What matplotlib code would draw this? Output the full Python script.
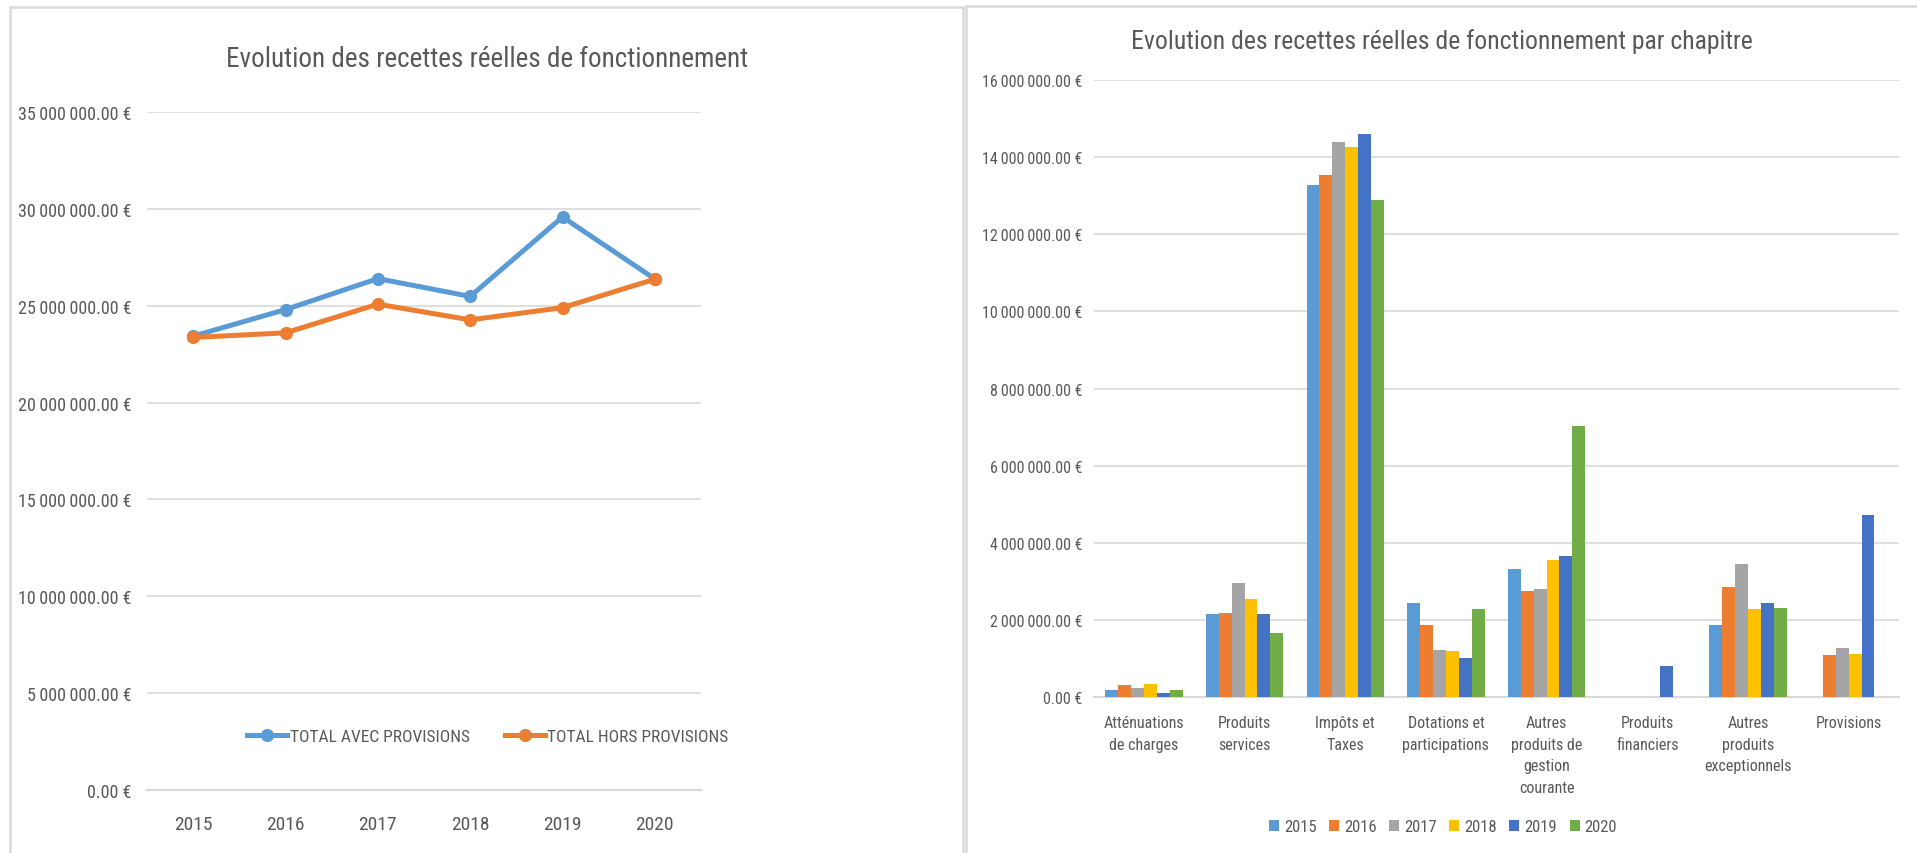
import matplotlib
matplotlib.use("Agg")
import matplotlib.pyplot as plt
from matplotlib import font_manager as fm
from matplotlib.patches import Rectangle, Patch
from matplotlib.ticker import FuncFormatter, MultipleLocator

# ---------------------------------------------------------------- data
years = ["2015", "2016", "2017", "2018", "2019", "2020"]

total_avec_provisions = [23_430_000, 24_800_000, 26_400_000, 25_480_000, 29_580_000, 26_380_000]
total_hors_provisions = [23_360_000, 23_600_000, 25_080_000, 24_270_000, 24_900_000, 26_370_000]

chapitres = [
    "Atténuations\nde charges",
    "Produits\nservices",
    "Impôts et\nTaxes",
    "Dotations et\nparticipations",
    "Autres\nproduits de\ngestion\ncourante",
    "Produits\nfinanciers",
    "Autres\nproduits\nexceptionnels",
    "Provisions",
]

recettes_2015 = [175_000, 2_140_000, 13_280_000, 2_430_000, 3_320_000, 0, 1_880_000, 0]
recettes_2016 = [306_000, 2_190_000, 13_540_000, 1_880_000, 2_740_000, 0, 2_850_000, 1_090_000]
recettes_2017 = [236_000, 2_950_000, 14_400_000, 1_220_000, 2_790_000, 0, 3_450_000, 1_280_000]
recettes_2018 = [330_000, 2_530_000, 14_270_000, 1_200_000, 3_550_000, 0, 2_270_000, 1_120_000]
recettes_2019 = [96_000, 2_140_000, 14_600_000, 1_010_000, 3_660_000, 800_000, 2_450_000, 4_710_000]
recettes_2020 = [175_000, 1_670_000, 12_890_000, 2_270_000, 7_040_000, 0, 2_300_000, 0]

# ---------------------------------------------------------------- style
TEXT = "#595959"
GRID = "#D9D9D9"
BLUE = "#5B9BD5"
ORANGE = "#ED7D31"
year_colors = ["#5B9BD5", "#ED7D31", "#A5A5A5", "#FFC000", "#4472C4", "#70AD47"]


def pick_narrow_font():
    names = {}
    for f in fm.fontManager.ttflist:
        names.setdefault(f.name, set()).add(str(f.stretch))
    for cand in ["Roboto Condensed", "Liberation Sans Narrow", "Open Sans Condensed",
                 "Noto Sans Condensed", "DejaVu Sans Condensed"]:
        if cand in names:
            return cand, "normal"
    for fam in ["Roboto", "Noto Sans", "Open Sans", "DejaVu Sans"]:
        st = names.get(fam, set())
        for s in ("condensed", "semi-condensed", "extra-condensed", "75", "87"):
            if s in st:
                return fam, s
    return "Liberation Sans", "normal"


FONT, STRETCH = pick_narrow_font()
plt.rcParams["font.family"] = [FONT, "DejaVu Sans"]
plt.rcParams["font.stretch"] = STRETCH

W, H = 1917, 854
fig = plt.figure(figsize=(W / 100, H / 100), dpi=100)
fig.patch.set_facecolor("white")


def fx(px):
    return px / W


def fy(py):
    return 1 - py / H


def euro(v, _pos=None):
    # thousands grouped with a thin space, French style
    return f"{v:,.2f}".replace(",", "\u2009") + " €"


# panel frames
fig.add_artist(Rectangle((fx(10), fy(900)), fx(963 - 10), fy(7.5) - fy(900),
                         transform=fig.transFigure, fill=False, edgecolor=GRID, lw=1.8))
fig.add_artist(Rectangle((fx(966), fy(900)), fx(2000 - 966), fy(6.7) - fy(900),
                         transform=fig.transFigure, fill=False, edgecolor=GRID, lw=1.8))

# ---------------------------------------------------------------- left: totals
ax1 = fig.add_axes([fx(147), fy(791), fx(701 - 147), fy(113) - fy(791)])
x = range(len(years))
ax1.plot(x, total_avec_provisions, color=BLUE, lw=3.6, marker="o", ms=8.5,
         label="TOTAL AVEC PROVISIONS", solid_joinstyle="round", zorder=3)
ax1.plot(x, total_hors_provisions, color=ORANGE, lw=3.6, marker="o", ms=8.5,
         label="TOTAL HORS PROVISIONS", solid_joinstyle="round", zorder=4)
ax1.set_xlim(-0.5, len(years) - 0.5)
ax1.set_ylim(0, 35_000_000)
ax1.yaxis.set_major_locator(MultipleLocator(5_000_000))
ax1.yaxis.set_major_formatter(FuncFormatter(euro))
ax1.set_xticks(list(x))
ax1.set_xticklabels(years)
ax1.grid(axis="y", color=GRID, lw=1.2)
ax1.set_axisbelow(True)
for s in ["top", "right", "left"]:
    ax1.spines[s].set_visible(False)
ax1.spines["bottom"].set_color(GRID)
ax1.spines["bottom"].set_linewidth(1.5)
ax1.tick_params(axis="both", length=0, colors=TEXT)
ax1.tick_params(axis="y", pad=11, labelsize=13)
ax1.tick_params(axis="x", pad=18, labelsize=14)
ax1.set_facecolor("none")

fig.text(fx(487), fy(67), "Evolution des recettes réelles de fonctionnement",
         ha="center", va="baseline", fontsize=19.5, color=TEXT)

leg1 = ax1.legend(loc="center", bbox_to_anchor=(fx(488), fy(737)),
                  bbox_transform=fig.transFigure, ncol=2, frameon=False,
                  fontsize=12.5, handlelength=2.3, handletextpad=0.15,
                  columnspacing=2.0, numpoints=1)
for t in leg1.get_texts():
    t.set_color(TEXT)

# ---------------------------------------------------------------- right: by chapter
ax2 = fig.add_axes([fx(1093.5), fy(698), fx(1899 - 1093.5), fy(81) - fy(698)])
series = [recettes_2015, recettes_2016, recettes_2017,
          recettes_2018, recettes_2019, recettes_2020]
n = len(series)
bw = 0.128
for i, (vals, col) in enumerate(zip(series, year_colors)):
    pos = [c + (i - (n - 1) / 2) * bw for c in range(len(chapitres))]
    ax2.bar(pos, vals, width=bw, color=col, label=years[i], zorder=3, linewidth=0)
ax2.set_xlim(-0.5, len(chapitres) - 0.5)
ax2.set_ylim(0, 16_000_000)
ax2.yaxis.set_major_locator(MultipleLocator(2_000_000))
ax2.yaxis.set_major_formatter(FuncFormatter(euro))
ax2.set_xticks(range(len(chapitres)))
ax2.set_xticklabels(chapitres, linespacing=1.55, va="top")
ax2.grid(axis="y", color=GRID, lw=1.2)
ax2.set_axisbelow(True)
for s in ["top", "right", "left"]:
    ax2.spines[s].set_visible(False)
ax2.spines["bottom"].set_color(GRID)
ax2.spines["bottom"].set_linewidth(1.5)
ax2.tick_params(axis="both", length=0, colors=TEXT, labelsize=11.5)
ax2.tick_params(axis="y", pad=8)
ax2.tick_params(axis="x", pad=13)
ax2.set_facecolor("none")

fig.text(fx(1442), fy(49), "Evolution des recettes réelles de fonctionnement par chapitre",
         ha="center", va="baseline", fontsize=18.5, color=TEXT)

handles = [Patch(facecolor=c, edgecolor="none") for c in year_colors]
leg2 = ax2.legend(handles, years, loc="center", bbox_to_anchor=(fx(1443), fy(828)),
                  bbox_transform=fig.transFigure, ncol=6, frameon=False,
                  fontsize=12, handlelength=0.6, handleheight=0.6,
                  handletextpad=0.3, columnspacing=0.75)
for t in leg2.get_texts():
    t.set_color(TEXT)

fig.savefig("out.png", dpi=100, facecolor="white")
